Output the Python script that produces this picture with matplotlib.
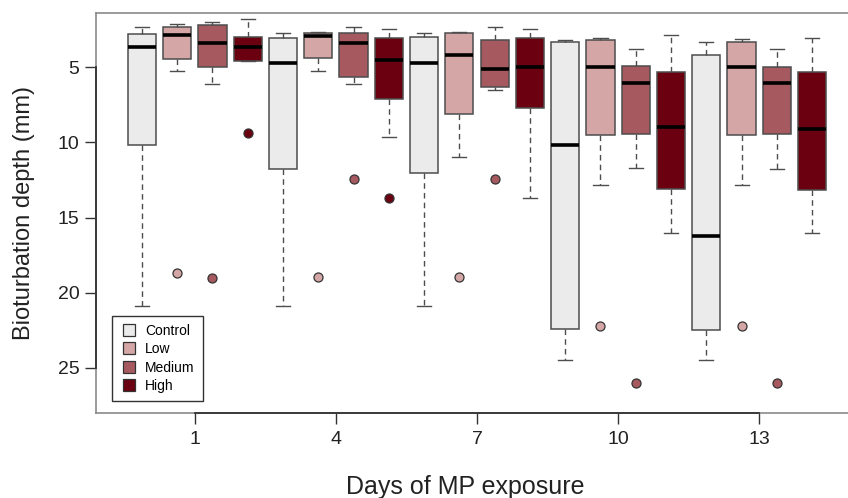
import matplotlib
matplotlib.use("Agg")
import matplotlib.pyplot as plt
from matplotlib.lines import Line2D

plt.rcParams['font.family'] = ['Liberation Sans', 'DejaVu Sans']

days = ["1", "4", "7", "10", "13"]
treatments = ["Control", "Low", "Medium", "High"]
colors = ["#ebebeb", "#d4a6a6", "#a65a5f", "#6b0010"]

# per treatment, one value per day (depth in mm, 5 days)
whis_top = {
    "Control": [2.31, 2.76, 2.72, 3.20, 3.36],
    "Low":     [2.10, 2.65, 2.65, 3.09, 3.14],
    "Medium":  [1.99, 2.36, 2.36, 3.82, 3.82],
    "High":    [1.83, 2.47, 2.47, 2.87, 3.09],
}
q_top = {
    "Control": [2.80, 3.03, 2.99, 3.36, 4.16],
    "Low":     [2.32, 2.72, 2.72, 3.20, 3.36],
    "Medium":  [2.20, 2.76, 3.20, 4.93, 4.98],
    "High":    [2.99, 3.09, 3.09, 5.31, 5.35],
}
medians = {
    "Control": [3.65, 4.71, 4.71, 10.18, 16.20],
    "Low":     [2.85, 2.94, 4.22, 4.98, 4.98],
    "Medium":  [3.38, 3.38, 5.11, 6.04, 6.04],
    "High":    [3.69, 4.53, 4.98, 8.97, 9.12],
}
q_bot = {
    "Control": [10.20, 11.80, 12.06, 22.40, 22.48],
    "Low":     [4.45, 4.42, 8.14, 9.52, 9.54],
    "Medium":  [5.02, 5.64, 6.31, 9.47, 9.47],
    "High":    [4.58, 7.13, 7.74, 13.13, 13.17],
}
whis_bot = {
    "Control": [20.90, 20.90, 20.90, 24.50, 24.50],
    "Low":     [5.27, 5.27, 10.96, 12.84, 12.84],
    "Medium":  [6.13, 6.13, 6.53, 11.73, 11.78],
    "High":    [4.58, 9.63, 13.72, 16.03, 16.03],
}
outliers = {
    "Control": [[], [], [], [], []],
    "Low":     [[18.70], [18.95], [18.95], [22.19], [22.23]],
    "Medium":  [[19.00], [12.44], [12.44], [25.98], [26.00]],
    "High":    [[9.40], [13.72], [], [], []],
}

fig = plt.figure(figsize=(8.48, 4.98), dpi=100)
ax = fig.add_axes([96 / 848, 85 / 498, 762 / 848, 400 / 498])

frame_col = "#8a8a8a"
edge_col = "#4d4d4d"

for d in range(len(days)):
    for t, name in enumerate(treatments):
        pos = d * 4 + t + 1
        stats = [{
            "med": medians[name][d], "q1": q_top[name][d], "q3": q_bot[name][d],
            "whislo": whis_top[name][d], "whishi": whis_bot[name][d],
            "fliers": outliers[name][d],
        }]
        ax.bxp(stats, positions=[pos], widths=0.8, patch_artist=True,
               showfliers=True, manage_ticks=False,
               boxprops=dict(facecolor=colors[t], edgecolor=edge_col, linewidth=1.1),
               medianprops=dict(color="black", linewidth=2.6, solid_capstyle="butt"),
               whiskerprops=dict(color=edge_col, linewidth=1.0, linestyle=(0, (4, 3))),
               capprops=dict(color=edge_col, linewidth=1.0),
               capwidths=0.4,
               flierprops=dict(marker="o", markerfacecolor=colors[t],
                               markeredgecolor="#333333", markersize=6.5,
                               markeredgewidth=0.9, linestyle="none"))

ax.set_xlim(-0.3, 21.3)
ax.set_ylim(28.0, 1.4)

tick_pos = [d * 4 + 2.5 for d in range(len(days))]
ax.set_xticks(tick_pos)
ax.set_xticklabels(days)
ax.set_yticks([5, 10, 15, 20, 25])
ax.set_yticklabels(["5", "10", "15", "20", "25"])
ax.tick_params(axis="both", direction="out", length=8, width=1.0, color="#333333",
               labelsize=14, labelcolor="#222222")
ax.tick_params(axis="x", pad=5)
ax.tick_params(axis="y", pad=4)

for s in ax.spines.values():
    s.set_color(frame_col)
    s.set_linewidth(1.2)

# R style axis lines between first and last tick
ax.plot([tick_pos[0], tick_pos[-1]], [0, 0], color="#333333", lw=1.3,
        transform=ax.get_xaxis_transform(), clip_on=False, zorder=5)
ax.plot([0, 0], [5, 25], color="#333333", lw=1.3,
        transform=ax.get_yaxis_transform(), clip_on=False, zorder=5)

ax.set_ylabel("Bioturbation depth (mm)", fontsize=17, color="#222222")
ax.yaxis.set_label_coords(-0.080, 0.5)
ax.set_xlabel("Days of MP exposure", fontsize=18, color="#222222")
ax.xaxis.set_label_coords(0.484, -0.155)

handles = [Line2D([], [], marker="s", linestyle="none", markersize=8,
                  markerfacecolor=c, markeredgecolor="#333333", markeredgewidth=0.9)
           for c in colors]
leg = ax.legend(handles, treatments, loc="lower left", bbox_to_anchor=(0.021, 0.03),
                borderaxespad=0, fancybox=False, framealpha=1, fontsize=10,
                labelspacing=0.3, handletextpad=0.6, handlelength=1.2,
                borderpad=0.6)
leg.get_frame().set_edgecolor("#333333")
leg.get_frame().set_linewidth(1.0)

fig.savefig("out.png", dpi=100)
